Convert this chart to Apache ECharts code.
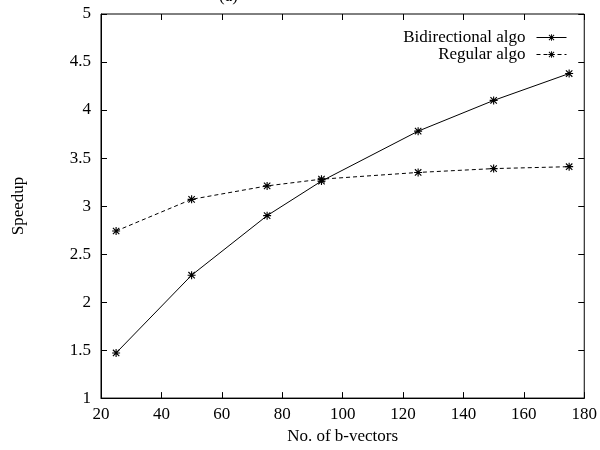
<!DOCTYPE html>
<html>
	<head>
		<meta charset="UTF-8">
		<title>Speedup</title>
		<style type="text/css">
			html,body{
				margin: 0;
				padding: 0;
				width: 100%;
				height: 100%;
				background: #fff;
			}
			#main{
				width: 600px;
				height: 450px;
			}
		</style>
	</head>
	<body>
		<div id="main"></div>
		<script src="https://cdn.jsdelivr.net/npm/echarts@6/dist/echarts.min.js"></script>
		<script>
			// no. of b-vectors
			var bVectors = [25, 50, 75, 93, 125, 150, 175];
			var bidirSpeedup = [1.47, 2.28, 2.90, 3.26, 3.78, 4.10, 4.38];
			var regularSpeedup = [2.74, 3.07, 3.21, 3.28, 3.35, 3.39, 3.41];
			var xTicks = [20, 180, 20];   // min, max, step
			var yTicks = [1, 5, 0.5];

			function pairs(xs, ys){
				return xs.map(function(x, i){ return [x, ys[i]]; });
			}

			// gnuplot style asterisk (plus + cross)
			var star = 'path://M0 4.3L10 4.3L10 5.7L0 5.7Z M4.3 0L5.7 0L5.7 10L4.3 10Z ' +
				'M0.5 1.5L1.5 0.5L9.5 8.5L8.5 9.5Z M8.5 0.5L9.5 1.5L1.5 9.5L0.5 8.5Z';

			var font = 'Liberation Serif';
			var fs = 17;
			var tickStyle = {show: true, inside: true, length: 6, lineStyle: {color: '#000', width: 1}};

			function legendFor(name, top){
				return {
					data: [name],
					right: 28, top: top,
					align: 'right',
					itemWidth: 30, itemHeight: 8,
					lineStyle: {width: 1},
					textStyle: {fontFamily: font, fontSize: fs, color: '#000', padding: [0, 6, 0, 0]}
				};
			}

			var myChart = echarts.init(document.getElementById('main'));
			myChart.setOption({
				backgroundColor: '#fff',
				animation: false,
				textStyle: {fontFamily: font, color: '#000'},
				title: {
					text: '(a)',
					left: 214,
					top: -17,
					textStyle: {fontFamily: font, fontSize: fs, fontWeight: 'normal', color: '#000'}
				},
				legend: [
					legendFor('Bidirectional algo', 24),
					legendFor('Regular algo', 41)
				],
				grid: {
					left: 101, right: 12, top: 14, bottom: 47,
					show: true, borderColor: '#000', borderWidth: 1
				},
				xAxis: [
					{
						type: 'value', min: xTicks[0], max: xTicks[1], interval: xTicks[2],
						name: 'No. of b-vectors', nameLocation: 'middle', nameGap: 26,
						nameTextStyle: {fontFamily: font, fontSize: fs, color: '#000'},
						axisLine: {show: true, lineStyle: {color: '#000'}},
						axisTick: tickStyle,
						axisLabel: {fontFamily: font, fontSize: fs, color: '#000', margin: 8},
						splitLine: {show: false}
					},
					{
						type: 'value', position: 'top', min: xTicks[0], max: xTicks[1], interval: xTicks[2],
						axisLine: {show: false}, axisTick: tickStyle,
						axisLabel: {show: false}, splitLine: {show: false}
					}
				],
				yAxis: [
					{
						type: 'value', min: yTicks[0], max: yTicks[1], interval: yTicks[2],
						name: 'Speedup', nameLocation: 'middle', nameGap: 74, nameRotate: 90,
						nameTextStyle: {fontFamily: font, fontSize: fs, color: '#000'},
						axisLine: {show: true, lineStyle: {color: '#000'}},
						axisTick: tickStyle,
						axisLabel: {fontFamily: font, fontSize: fs, color: '#000', margin: 10},
						splitLine: {show: false}
					},
					{
						type: 'value', position: 'right', min: yTicks[0], max: yTicks[1], interval: yTicks[2],
						axisLine: {show: false}, axisTick: tickStyle,
						axisLabel: {show: false}, splitLine: {show: false}
					}
				],
				series: [
					{
						name: 'Bidirectional algo',
						type: 'line',
						data: pairs(bVectors, bidirSpeedup),
						symbol: star, symbolSize: 8,
						itemStyle: {color: '#000'},
						lineStyle: {color: '#000', width: 1, type: 'solid'}
					},
					{
						name: 'Regular algo',
						type: 'line',
						data: pairs(bVectors, regularSpeedup),
						symbol: star, symbolSize: 8,
						itemStyle: {color: '#000'},
						lineStyle: {color: '#000', width: 1, type: [4, 3]}
					}
				]
			});
		</script>
	</body>
</html>
